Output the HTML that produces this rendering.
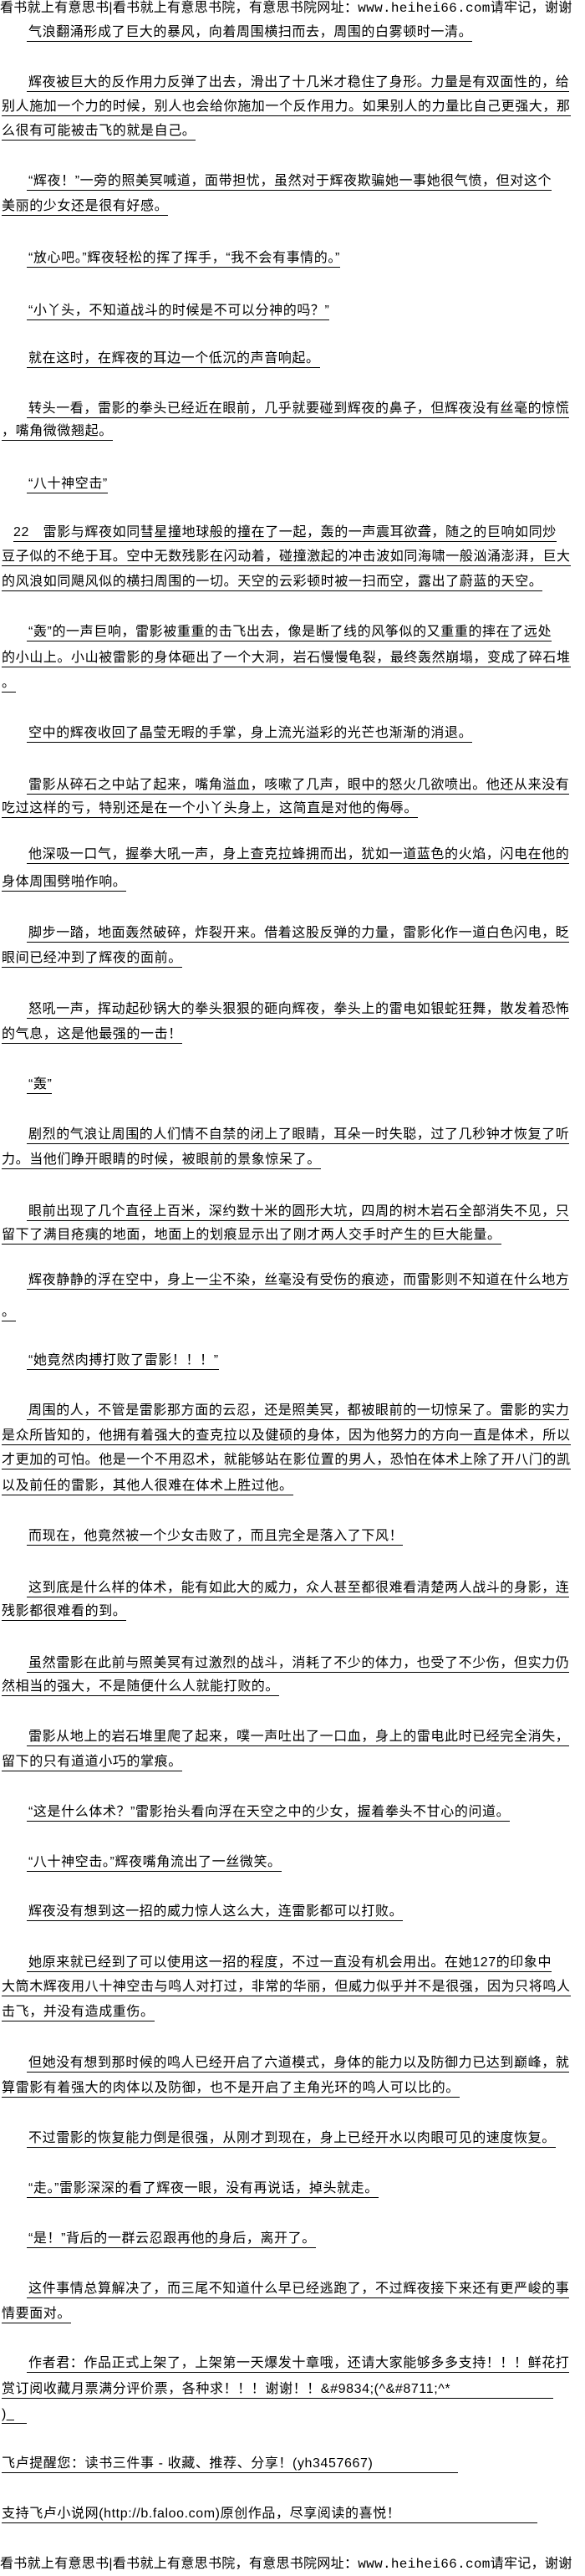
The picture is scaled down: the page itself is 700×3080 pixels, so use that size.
<!DOCTYPE html>
<html><head><meta charset="utf-8">
<style>
html,body{margin:0;padding:0;background:#fff;}
body{width:700px;height:3080px;position:relative;overflow:hidden;
font-family:"Liberation Sans","Noto Sans CJK SC",sans-serif;font-size:16px;color:#000;}
.l{position:absolute;white-space:nowrap;line-height:20px;height:22px;letter-spacing:0.6px;}
.l span{display:inline-block;border-bottom:1px solid #000;line-height:20px;height:20px;}
.i{left:32px;} .i span{padding-left:2px;}
.c{left:2px;}
.h{position:absolute;left:0;white-space:nowrap;line-height:20px;letter-spacing:0.3px;}
</style></head><body>
<div class="h" style="top:0px">看书就上有意思书|看书就上有意思书院，有意思书院网址：<span style="font-family:'Liberation Mono',monospace">www.heihei66.com</span>请牢记，谢谢</div>

<div class="l i" style="top:29px"><span>气浪翻涌形成了巨大的暴风，向着周围横扫而去，周围的白雾顿时一清。</span></div>
<div class="l i" style="top:89px"><span>辉夜被巨大的反作用力反弹了出去，滑出了十几米才稳住了身形。力量是有双面性的，给</span></div>
<div class="l c" style="top:118px"><span>别人施加一个力的时候，别人也会给你施加一个反作用力。如果别人的力量比自己更强大，那</span></div>
<div class="l c" style="top:147px"><span>么很有可能被击飞的就是自己。</span></div>
<div class="l i" style="top:207px"><span>“辉夜！”一旁的照美冥喊道，面带担忧，虽然对于辉夜欺骗她一事她很气愤，但对这个</span></div>
<div class="l c" style="top:237px"><span>美丽的少女还是很有好感。</span></div>
<div class="l i" style="top:299px"><span>“放心吧。”辉夜轻松的挥了挥手，“我不会有事情的。”</span></div>
<div class="l i" style="top:362px"><span>“小丫头，不知道战斗的时候是不可以分神的吗？”</span></div>
<div class="l i" style="top:419px"><span>就在这时，在辉夜的耳边一个低沉的声音响起。</span></div>
<div class="l i" style="top:479px"><span>转头一看，雷影的拳头已经近在眼前，几乎就要碰到辉夜的鼻子，但辉夜没有丝毫的惊慌</span></div>
<div class="l c" style="top:506px"><span>，嘴角微微翘起。</span></div>
<div class="l i" style="top:569px"><span>“八十神空击”</span></div>
<div class="l" style="top:627px;left:16px"><span>22　雷影与辉夜如同彗星撞地球般的撞在了一起，轰的一声震耳欲聋，随之的巨响如同炒</span></div>
<div class="l c" style="top:656px"><span>豆子似的不绝于耳。空中无数残影在闪动着，碰撞激起的冲击波如同海啸一般汹涌澎湃，巨大</span></div>
<div class="l c" style="top:686px"><span>的风浪如同飓风似的横扫周围的一切。天空的云彩顿时被一扫而空，露出了蔚蓝的天空。</span></div>
<div class="l i" style="top:746px"><span>“轰”的一声巨响，雷影被重重的击飞出去，像是断了线的风筝似的又重重的摔在了远处</span></div>
<div class="l c" style="top:777px"><span>的小山上。小山被雷影的身体砸出了一个大洞，岩石慢慢龟裂，最终轰然崩塌，变成了碎石堆</span></div>
<div class="l c" style="top:807px"><span>。</span></div>
<div class="l i" style="top:867px"><span>空中的辉夜收回了晶莹无暇的手掌，身上流光溢彩的光芒也渐渐的消退。</span></div>
<div class="l i" style="top:929px"><span>雷影从碎石之中站了起来，嘴角溢血，咳嗽了几声，眼中的怒火几欲喷出。他还从来没有</span></div>
<div class="l c" style="top:957px"><span>吃过这样的亏，特别还是在一个小丫头身上，这简直是对他的侮辱。</span></div>
<div class="l i" style="top:1012px"><span>他深吸一口气，握拳大吼一声，身上查克拉蜂拥而出，犹如一道蓝色的火焰，闪电在他的</span></div>
<div class="l c" style="top:1045px"><span>身体周围劈啪作响。</span></div>
<div class="l i" style="top:1106px"><span>脚步一踏，地面轰然破碎，炸裂开来。借着这股反弹的力量，雷影化作一道白色闪电，眨</span></div>
<div class="l c" style="top:1136px"><span>眼间已经冲到了辉夜的面前。</span></div>
<div class="l i" style="top:1197px"><span>怒吼一声，挥动起砂锅大的拳头狠狠的砸向辉夜，拳头上的雷电如银蛇狂舞，散发着恐怖</span></div>
<div class="l c" style="top:1227px"><span>的气息，这是他最强的一击！</span></div>
<div class="l i" style="top:1287px"><span>“轰”</span></div>
<div class="l i" style="top:1347px"><span>剧烈的气浪让周围的人们情不自禁的闭上了眼睛，耳朵一时失聪，过了几秒钟才恢复了听</span></div>
<div class="l c" style="top:1377px"><span>力。当他们睁开眼睛的时候，被眼前的景象惊呆了。</span></div>
<div class="l i" style="top:1439px"><span>眼前出现了几个直径上百米，深约数十米的圆形大坑，四周的树木岩石全部消失不见，只</span></div>
<div class="l c" style="top:1467px"><span>留下了满目疮痍的地面，地面上的划痕显示出了刚才两人交手时产生的巨大能量。</span></div>
<div class="l i" style="top:1521px"><span>辉夜静静的浮在空中，身上一尘不染，丝毫没有受伤的痕迹，而雷影则不知道在什么地方</span></div>
<div class="l c" style="top:1559px"><span>。</span></div>
<div class="l i" style="top:1617px"><span>“她竟然肉搏打败了雷影！！！”</span></div>
<div class="l i" style="top:1677px"><span>周围的人，不管是雷影那方面的云忍，还是照美冥，都被眼前的一切惊呆了。雷影的实力</span></div>
<div class="l c" style="top:1707px"><span>是众所皆知的，他拥有着强大的查克拉以及健硕的身体，因为他努力的方向一直是体术，所以</span></div>
<div class="l c" style="top:1736px"><span>才更加的可怕。他是一个不用忍术，就能够站在影位置的男人，恐怕在体术上除了开八门的凯</span></div>
<div class="l c" style="top:1767px"><span>以及前任的雷影，其他人很难在体术上胜过他。</span></div>
<div class="l i" style="top:1827px"><span>而现在，他竟然被一个少女击败了，而且完全是落入了下风！</span></div>
<div class="l i" style="top:1889px"><span>这到底是什么样的体术，能有如此大的威力，众人甚至都很难看清楚两人战斗的身影，连</span></div>
<div class="l c" style="top:1917px"><span>残影都很难看的到。</span></div>
<div class="l i" style="top:1979px"><span>虽然雷影在此前与照美冥有过激烈的战斗，消耗了不少的体力，也受了不少伤，但实力仍</span></div>
<div class="l c" style="top:2007px"><span>然相当的强大，不是随便什么人就能打败的。</span></div>
<div class="l i" style="top:2067px"><span>雷影从地上的岩石堆里爬了起来，噗一声吐出了一口血，身上的雷电此时已经完全消失，</span></div>
<div class="l c" style="top:2097px"><span>留下的只有道道小巧的掌痕。</span></div>
<div class="l i" style="top:2157px"><span>“这是什么体术？”雷影抬头看向浮在天空之中的少女，握着拳头不甘心的问道。</span></div>
<div class="l i" style="top:2217px"><span>“八十神空击。”辉夜嘴角流出了一丝微笑。</span></div>
<div class="l i" style="top:2276px"><span>辉夜没有想到这一招的威力惊人这么大，连雷影都可以打败。</span></div>
<div class="l i" style="top:2337px"><span>她原来就已经到了可以使用这一招的程度，不过一直没有机会用出。在她127的印象中</span></div>
<div class="l c" style="top:2366px"><span>大筒木辉夜用八十神空击与鸣人对打过，非常的华丽，但威力似乎并不是很强，因为只将鸣人</span></div>
<div class="l c" style="top:2396px"><span>击飞，并没有造成重伤。</span></div>
<div class="l i" style="top:2457px"><span>但她没有想到那时候的鸣人已经开启了六道模式，身体的能力以及防御力已达到巅峰，就</span></div>
<div class="l c" style="top:2487px"><span>算雷影有着强大的肉体以及防御，也不是开启了主角光环的鸣人可以比的。</span></div>
<div class="l i" style="top:2547px"><span>不过雷影的恢复能力倒是很强，从刚才到现在，身上已经开水以肉眼可见的速度恢复。</span></div>
<div class="l i" style="top:2607px"><span>“走。”雷影深深的看了辉夜一眼，没有再说话，掉头就走。</span></div>
<div class="l i" style="top:2667px"><span>“是！”背后的一群云忍跟再他的身后，离开了。</span></div>
<div class="l i" style="top:2727px"><span>这件事情总算解决了，而三尾不知道什么早已经逃跑了，不过辉夜接下来还有更严峻的事</span></div>
<div class="l c" style="top:2757px"><span>情要面对。</span></div>
<div class="l i" style="top:2816px"><span>作者君：作品正式上架了，上架第一天爆发十章哦，还请大家能够多多支持！！！鲜花打</span></div>
<div class="l c" style="top:2847px"><span style="width:660px">赏订阅收藏月票满分评价票，各种求！！！谢谢！！&amp;#9834;(^&amp;#8711;^*</span></div>
<div class="l c" style="top:2877px"><span style="width:30px">)_</span></div>
<div class="l c" style="top:2936px"><span style="width:546px">飞卢提醒您：读书三件事 - 收藏、推荐、分享！(yh3457667)</span></div>
<div class="l c" style="top:2996px"><span style="width:641px">支持飞卢小说网(http://b.faloo.com)原创作品，尽享阅读的喜悦！</span></div>

<div class="h" style="top:3056px">看书就上有意思书|看书就上有意思书院，有意思书院网址：<span style="font-family:'Liberation Mono',monospace">www.heihei66.com</span>请牢记，谢谢</div>
</body></html>
